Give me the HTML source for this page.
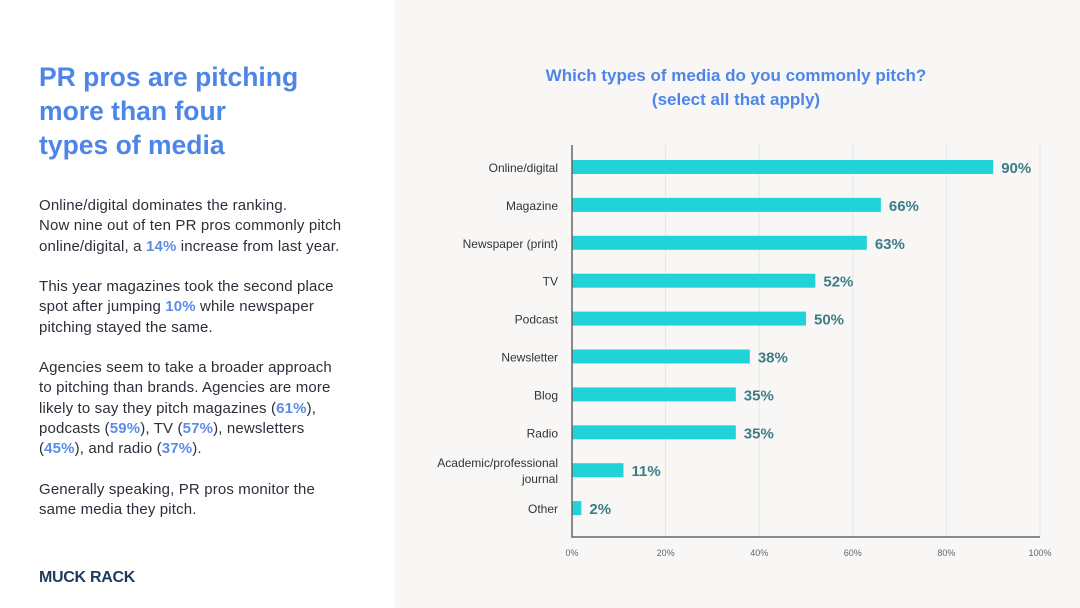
<!DOCTYPE html>
<html><head><meta charset="utf-8"><style>
body{margin:0;width:1080px;height:608px;overflow:hidden;background:#fff;font-family:"Liberation Sans",sans-serif;position:relative}
#right{position:absolute;left:394px;top:0;width:686px;height:608px;background:#f8f7f6}
h1{position:absolute;left:39px;top:60px;margin:0;font-size:26.5px;line-height:34px;color:#4d86e6;font-weight:bold;letter-spacing:0}
.p{position:absolute;left:39px;font-size:15px;line-height:20.3px;color:#2a2f3a;white-space:nowrap;letter-spacing:0.15px}
.p b{color:#5a8ce8}
#logo{position:absolute;left:39px;top:569px;font-size:16px;font-weight:900;color:#1e3a5f;letter-spacing:-0.3px}
</style></head><body>
<div id="right"></div>
<h1>PR pros are pitching<br>more than four<br>types of media</h1>
<div class="p" style="top:196px">Online/digital dominates the ranking.<br>Now nine out of ten PR pros commonly pitch<br>online/digital, a <b>14%</b> increase from last year.</div>
<div class="p" style="top:277px">This year magazines took the second place<br>spot after jumping <b>10%</b> while newspaper<br>pitching stayed the same.</div>
<div class="p" style="top:358px">Agencies seem to take a broader approach<br>to pitching than brands. Agencies are more<br>likely to say they pitch magazines (<b>61%</b>),<br>podcasts (<b>59%</b>), TV (<b>57%</b>), newsletters<br>(<b>45%</b>), and radio (<b>37%</b>).</div>
<div class="p" style="top:480px">Generally speaking, PR pros monitor the<br>same media they pitch.</div>
<div id="logo">MUCK RACK</div>
<svg id="chart" width="1080" height="608" style="position:absolute;left:0;top:0">
<text x="736" y="81" text-anchor="middle" font-size="17" font-weight="bold" fill="#4d86e6">Which types of media do you commonly pitch?</text>
<text x="736" y="105" text-anchor="middle" font-size="17" font-weight="bold" fill="#4d86e6">(select all that apply)</text>
</svg>
<script>
const categories=["Online/digital","Magazine","Newspaper (print)","TV","Podcast","Newsletter","Blog","Radio","Academic/professional journal","Other"];
const values=[90,66,63,52,50,38,35,35,11,2];
const ticks=[0,20,40,60,80,100];
const svg=document.getElementById('chart');const NS='http://www.w3.org/2000/svg';
const x0=572,x1=1040,yTop=145,yAxis=537,y0=167,step=37.9,bh=14;
const xs=v=>x0+(x1-x0)*v/100, ys=i=>y0+step*i;
function mk(t,a){const e=document.createElementNS(NS,t);for(const k in a)e.setAttribute(k,a[k]);svg.appendChild(e);return e;}
ticks.forEach(t=>{
 const g=mk('line',{x1:xs(t),x2:xs(t),y1:yTop,y2:yAxis,stroke:'#e6e6e6','stroke-width':1});
 
 
 const l=mk('text',{x:xs(t),y:556,'text-anchor':'middle','font-size':9,fill:'#666'});l.textContent=t+'%';
 
 
});
categories.forEach((c,i)=>{
 const y=ys(i);
 const r=mk('rect',{x:x0,y:y-bh/2,width:xs(values[i])-x0,height:bh,fill:'#1fd3d9'});
 
 
 const v=mk('text',{x:xs(values[i])+8,y:y+6,'font-size':15,'font-weight':'bold',fill:'#3d7d86'});v.textContent=values[i]+'%';
 
 
 if(c.startsWith('Academic')){
  const a=mk('text',{x:558,y:y-3,'text-anchor':'end','font-size':12,fill:'#333'});a.textContent='Academic/professional';
  
  
  const b=mk('text',{x:558,y:y+13,'text-anchor':'end','font-size':12,fill:'#333'});b.textContent='journal';
  
  
 }else{
  const a=mk('text',{x:558,y:y+5,'text-anchor':'end','font-size':12,fill:'#333'});a.textContent=c;
  
  
 }
});
const ax=mk('path',{d:`M${x0} ${yTop}V${yAxis}H${x1}`,stroke:'#666','stroke-width':1.5,fill:'none'});


</script>
</body></html>
